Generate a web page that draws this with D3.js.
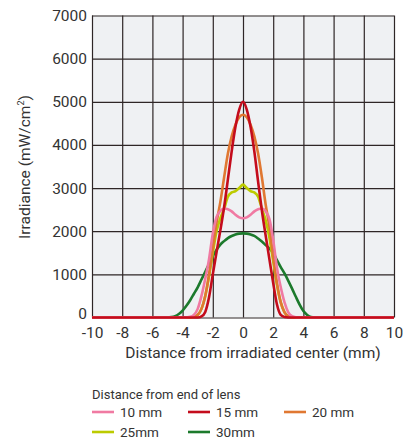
<!DOCTYPE html>
<html>
<head>
<meta charset="utf-8">
<script src="https://cdn.jsdelivr.net/npm/d3@7"></script>
<style>
  body { margin: 0; background: #fff; }
  text { font-family: Roboto, "Noto Sans", sans-serif; fill: #333; }
</style>
</head>
<body>
<div id="chart"></div>
<script>
'use strict';

// distance from irradiated center (mm)
const xs = [-10, -5, -4.75, -4.5, -4.25, -4, -3.75, -3.5, -3.25, -3, -2.75, -2.5, -2.25, -2, -1.75, -1.5, -1.25, -1, -0.75, -0.5, -0.25,
  0, 0.25, 0.5, 0.75, 1, 1.25, 1.5, 1.75, 2, 2.25, 2.5, 2.75, 3, 3.25, 3.5, 3.75, 4, 4.25, 4.5, 4.75, 5, 10];

// irradiance (mW/cm2)
const mm10 = [0, 0, 0, 0, 0, 0, 5, 15, 60, 200, 500, 900, 1350, 1950, 2330, 2470, 2525, 2510, 2460, 2380, 2320,
  2300, 2320, 2380, 2460, 2510, 2525, 2460, 2280, 1800, 1150, 700, 350, 120, 30, 5, 0, 0, 0, 0, 0, 0, 0];
const mm15 = [0, 0, 0, 0, 0, 0, 0, 0, 0, 0, 25, 130, 470, 1000, 1520, 2020, 2560, 3200, 3850, 4420, 4820,
  5000, 4820, 4420, 3850, 3150, 2480, 1900, 1350, 800, 300, 60, 10, 0, 0, 0, 0, 0, 0, 0, 0, 0, 0];
const mm20 = [0, 0, 0, 0, 0, 0, 0, 0, 10, 60, 200, 500, 1000, 1600, 2200, 2680, 3250, 3800, 4200, 4470, 4640,
  4700, 4640, 4470, 4200, 3800, 3250, 2620, 2100, 1400, 800, 350, 120, 30, 5, 0, 0, 0, 0, 0, 0, 0, 0];
const mm25 = [0, 0, 0, 0, 0, 0, 0, 0, 10, 60, 200, 500, 950, 1500, 2000, 2300, 2520, 2800, 2900, 2930, 3000,
  3080, 3000, 2930, 2900, 2800, 2520, 2250, 1850, 1300, 750, 350, 120, 30, 5, 0, 0, 0, 0, 0, 0, 0, 0];
const mm30 = [0, 0, 8, 30, 80, 160, 270, 400, 550, 700, 880, 1060, 1240, 1420, 1570, 1690, 1770, 1840, 1890, 1925, 1945,
  1950, 1945, 1925, 1890, 1830, 1760, 1680, 1600, 1500, 1330, 1170, 1020, 850, 670, 480, 300, 150, 60, 10, 0, 0, 0];

const xTicks = [-10, -8, -6, -4, -2, 0, 2, 4, 6, 8, 10];
const yTicks = [0, 1000, 2000, 3000, 4000, 5000, 6000, 7000];

const seriesNames = ['10 mm', '15 mm', '20 mm', '25mm', '30mm'];
const seriesValues = [mm10, mm15, mm20, mm25, mm30];
const seriesColors = ['#f07aa2', '#c40c1c', '#e07832', '#bccb00', '#1c7a2c'];

const msm = {
  width: 418,
  height: 439,
  left: 92,
  right: 394,
  top: 15.5,
  bottom: 317.5
};

const svg = d3.select('#chart')
  .append('svg')
  .attr('width', msm.width)
  .attr('height', msm.height);

const xScale = d3.scaleLinear().domain([-10, 10]).range([msm.left, msm.right]);
const yScale = d3.scaleLinear().domain([0, 7000]).range([msm.bottom, msm.top]);

// plain numbers, hyphen for minus
const fmt = d => String(d);

// plot background
svg.append('rect')
  .attr('x', msm.left)
  .attr('y', msm.top)
  .attr('width', msm.right - msm.left)
  .attr('height', msm.bottom - msm.top)
  .attr('fill', '#eff1f3');

// grid
svg.append('g')
  .attr('transform', 'translate(0,' + msm.bottom + ')')
  .call(d3.axisBottom(xScale).tickValues(xTicks).tickSize(-(msm.bottom - msm.top)).tickFormat(''))
  .call(g => g.select('.domain').remove())
  .call(g => g.selectAll('line').attr('stroke', '#2e2626').attr('stroke-width', 1.2));

svg.append('g')
  .attr('transform', 'translate(' + msm.left + ',0)')
  .call(d3.axisLeft(yScale).tickValues(yTicks).tickSize(-(msm.right - msm.left)).tickFormat(''))
  .call(g => g.select('.domain').remove())
  .call(g => g.selectAll('line').attr('stroke', '#2e2626').attr('stroke-width', 1.2));

// tick labels
svg.append('g')
  .attr('transform', 'translate(0,' + msm.bottom + ')')
  .call(d3.axisBottom(xScale).tickValues(xTicks).tickSize(0).tickPadding(9).tickFormat(fmt))
  .call(g => g.select('.domain').remove())
  .call(g => g.selectAll('text').style('font-size', '15.5px').attr('fill', '#333'));

svg.append('g')
  .attr('transform', 'translate(' + msm.left + ',0)')
  .call(d3.axisLeft(yScale).tickValues(yTicks).tickSize(0).tickPadding(5).tickFormat(fmt))
  .call(g => g.select('.domain').remove())
  .call(g => g.selectAll('text').style('font-size', '15.5px').attr('fill', '#333'))
  .call(g => g.selectAll('.tick').filter(d => d === 0).select('text').attr('dy', '0.05em'));

// curves
const line = d3.line()
  .x((d, i) => xScale(xs[i]))
  .y(d => yScale(d))
  .curve(d3.curveMonotoneX);

const order = [4, 3, 2, 0, 1];
order.forEach(k => {
  svg.append('path')
    .datum(seriesValues[k])
    .attr('fill', 'none')
    .attr('stroke', seriesColors[k])
    .attr('stroke-width', 2.6)
    .attr('stroke-linejoin', 'round')
    .attr('d', line);
});

// axis titles
svg.append('text')
  .attr('x', (msm.left + msm.right) / 2 + 10)
  .attr('y', 358)
  .attr('text-anchor', 'middle')
  .style('font-size', '15.5px')
  .text('Distance from irradiated center (mm)');

svg.append('text')
  .attr('transform', 'translate(30,' + 167 + ') rotate(-90)')
  .attr('text-anchor', 'middle')
  .style('font-size', '15.5px')
  .html('Irradiance (mW/cm<tspan dy="-6" style="font-size:9px">2</tspan><tspan dy="6">)</tspan>');

// legend
svg.append('text')
  .attr('x', 92)
  .attr('y', 398.5)
  .style('font-size', '13px')
  .text('Distance from end of lens');

const legendPos = [[92, 412], [188, 412], [284, 412], [92, 432], [188, 432]];
seriesNames.forEach((name, i) => {
  const g = svg.append('g').attr('transform', 'translate(' + legendPos[i][0] + ',' + legendPos[i][1] + ')');
  g.append('line')
    .attr('x1', 0).attr('x2', 22)
    .attr('y1', 0).attr('y2', 0)
    .attr('stroke', seriesColors[i])
    .attr('stroke-width', 2.6);
  g.append('text')
    .attr('x', 28)
    .attr('y', 5)
    .style('font-size', '13.5px')
    .text(name);
});
</script>
</body>
</html>
